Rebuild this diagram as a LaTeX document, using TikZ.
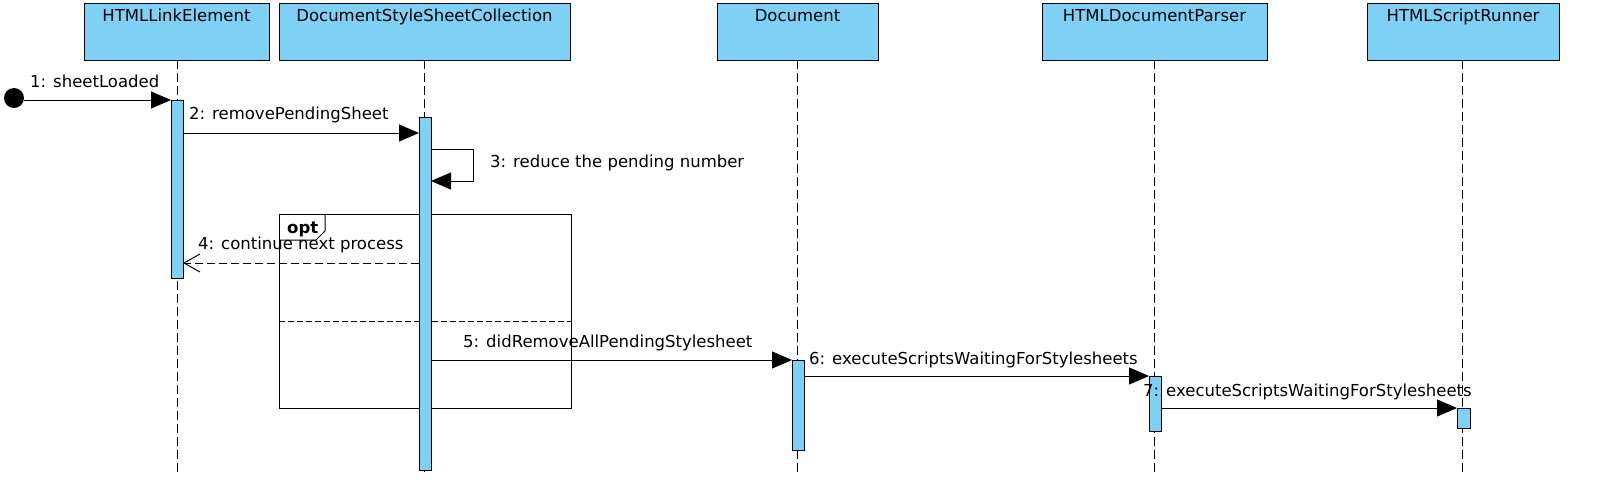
\documentclass[tikz,border=0pt]{standalone}
\usepackage{fontspec}
\setmainfont{DejaVu Sans}
\usetikzlibrary{arrows.meta}
\begin{document}
\begin{tikzpicture}[x=1pt,y=-1pt,
  hdr/.style={draw,fill=headc,line width=1pt},
  life/.style={dashed,dash pattern=on 9pt off 4pt,line width=1pt},
  act/.style={draw,fill=headc,line width=1pt},
  msg/.style={line width=1pt,-{Triangle[length=20pt,width=17pt]}},
  ret/.style={line width=1pt,dashed,dash pattern=on 8pt off 4pt,-{Straight Barb[length=16pt,width=18pt]}},
  lbl/.style={font=\fontsize{16.5}{18}\selectfont,anchor=base west,inner sep=0pt},
  hl/.style={font=\fontsize{16.5}{18}\selectfont,anchor=base,inner sep=0pt}]
\definecolor{headc}{HTML}{7ED0F5}
\useasboundingbox (0,0) rectangle (1610,493);
% headers
\draw[hdr] (84,3) rectangle (269,60); \node[hl] (h1) at (176.5,21) {HTMLLinkElement};
\draw[hdr] (279,3) rectangle (570,60); \node[hl] (h2) at (424.5,21) {DocumentStyleSheetCollection};
\draw[hdr] (717,3) rectangle (878,60); \node[hl] (h3) at (797.5,21) {Document};
\draw[hdr] (1042,3) rectangle (1267,60); \node[hl] (h4) at (1154.5,21) {HTMLDocumentParser};
\draw[hdr] (1367,3) rectangle (1559,60); \node[hl] (h5) at (1463,21) {HTMLScriptRunner};
% lifelines
\foreach \x in {177,424,797,1154,1462} \draw[life] (\x,60) -- (\x,474);
% opt frame
\draw[line width=1pt] (279,214) rectangle (571,408);
\draw[line width=1pt] (279,240) -- (316,240) -- (325,231) -- (325,214);
\node[font=\bfseries\fontsize{16.5}{18}\selectfont,anchor=base west,inner sep=0pt] at (287,233) {opt};
\draw[line width=1pt,dashed,dash pattern=on 6pt off 3pt] (279,321) -- (571,321);
% activations
\draw[act] (171,100) rectangle (183,278);
\draw[act] (419,117) rectangle (431,470);
\draw[act] (792,360) rectangle (804,450);
\draw[act] (1149,376) rectangle (1161,431);
\draw[act] (1457,408) rectangle (1470,428);
% start
\fill (14,98) circle (10);
\coordinate (s) at (24,100);
\coordinate (a1) at (171,100);
\draw[msg] (s) -- (a1);
\node[lbl] at (30,87) {1: sheetLoaded};
\coordinate (a2s) at (183,133); \coordinate (a2e) at (419,133);
\draw[msg] (a2s) -- (a2e);
\node[lbl] at (189,119) {2: removePendingSheet};
\coordinate (a3s) at (431,149); \coordinate (a3e) at (431,181);
\draw[msg] (a3s) -- (473,149) -- (473,181) -- (a3e);
\node[lbl] at (490,167) {3: reduce the pending number};
\coordinate (a4s) at (419,263); \coordinate (a4e) at (183,263);
\draw[ret] (a4s) -- (a4e);
\node[lbl] at (198,249) {4: continue next process};
\coordinate (a5s) at (431,360); \coordinate (a5e) at (792,360);
\draw[msg] (a5s) -- (a5e);
\node[lbl] at (463,347) {5: didRemoveAllPendingStylesheet};
\coordinate (a6s) at (804,376); \coordinate (a6e) at (1149,376);
\draw[msg] (a6s) -- (a6e);
\node[lbl] at (809,364) {6: executeScriptsWaitingForStylesheets};
\coordinate (a7s) at (1161,408); \coordinate (a7e) at (1457,408);
\draw[msg] (a7s) -- (a7e);
\node[lbl] at (1143,396) {7: executeScriptsWaitingForStylesheets};
\end{tikzpicture}
\end{document}
